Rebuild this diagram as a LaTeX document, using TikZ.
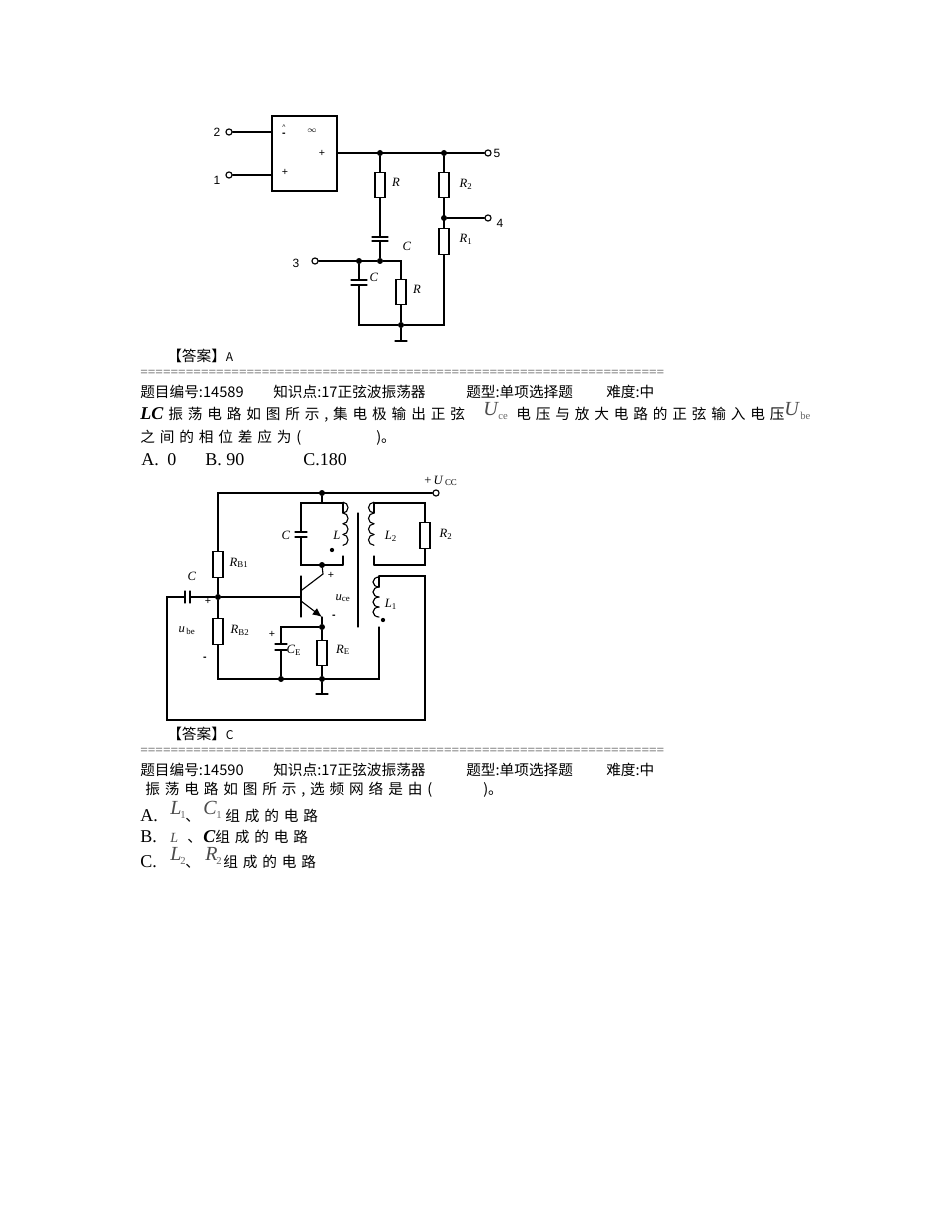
\documentclass[tikz,border=0pt]{standalone}
\usepackage{fontspec}
\usetikzlibrary{arrows.meta}
\setmainfont{Liberation Serif}
\setsansfont{Liberation Sans}
\newfontfamily\cjk{Noto Sans CJK SC}
\newfontfamily\cjkwide[LetterSpace=33]{Noto Sans CJK SC}
\newcommand{\subs}[2]{\textit{#1}\textsubscript{#2}}
\tikzset{
  wire/.style={line width=0.85pt,line cap=round},
  res/.style={draw,line width=0.85pt,rectangle,minimum width=7.5pt,minimum height=19pt,inner sep=0pt},
  dot/.style={circle,fill=black,inner sep=0pt,minimum size=4.5pt},
  term/.style={circle,draw,fill=white,line width=0.85pt,inner sep=0pt,minimum size=4.6pt},
  lab/.style={inner sep=0pt,font=\fontsize{9.5}{10}\selectfont},
  pinlab/.style={inner sep=0pt,font=\sffamily\fontsize{9}{10}\selectfont},
  sign/.style={inner sep=0pt,font=\sffamily\fontsize{8}{9}\selectfont},
  txt/.style={anchor=base west,inner sep=0pt,font=\cjk\fontsize{11}{12}\selectfont},
  wide/.style={anchor=base west,inner sep=0pt,font=\cjkwide\fontsize{11}{12}\selectfont},
  opt/.style={anchor=base west,inner sep=0pt,font=\fontsize{13.5}{14}\selectfont},
  bigl/.style={anchor=base west,inner sep=0pt,font=\itshape\fontsize{15}{16}\selectfont,text=black!70},
  subtxt/.style={anchor=base west,inner sep=0pt,font=\fontsize{8}{9}\selectfont,text=black!60},
  eqline/.style={anchor=base west,inner sep=0pt,font=\fontsize{10.1}{10}\selectfont,text=black!70},
}
\begin{document}
\begin{tikzpicture}[x=0.75pt,y=-0.75pt]
    \useasboundingbox[fill=white] (0,0) rectangle (950,1230);

    % first circuit
    \node[draw,line width=0.85pt,minimum width=48.75pt,minimum height=56.25pt,inner sep=0pt] (amp) at (304.5,153.5) {};
    \node[term] (t2) at (229,132) {};
    \node[term] (t1) at (229,175) {};
    \node[term] (t5) at (488,153) {};
    \node[term] (t4) at (488,218) {};
    \node[term] (t3) at (315,261) {};
    \node[dot] (a1) at (380,153) {};
    \node[dot] (a2) at (444,153) {};
    \node[dot] (a3) at (444,218) {};
    \node[dot] (a4) at (380,261) {};
    \node[dot] (a5) at (359,261) {};
    \node[dot] (a6) at (401,325) {};
    \node[res] (ra) at (380,185) {};
    \node[res] (rb) at (444,185) {};
    \node[res] (rc) at (444,241.5) {};
    \node[res] (rd) at (401,292) {};
    \coordinate (ca) at (380,237);
    \coordinate (cb) at (380,241);
    \coordinate (cc) at (359,280);
    \coordinate (cd) at (359,285);
    \coordinate (ga) at (401,341);
    \draw[wire] (t2) -- (t2-|amp.west);
    \draw[wire] (t1) -- (t1-|amp.west);
    \draw[wire] (amp.east|-t5) -- (t5);
    \draw[wire] (a1) -- (ra);
    \draw[wire] (a2) -- (rb);
    \draw[wire] (rb) -- (rc);
    \draw[wire] (a3) -- (t4);
    \draw[wire] (ra) -- (ca);
    \draw[wire] (cb) -- (a4);
    \draw[wire] ([xshift=-6pt]ca) -- ([xshift=6pt]ca);
    \draw[wire] ([xshift=-6pt]cb) -- ([xshift=6pt]cb);
    \draw[wire] (t3) -- (a4) -| (rd);
    \draw[wire] (a5) -- (cc);
    \draw[wire] ([xshift=-6pt]cc) -- ([xshift=6pt]cc);
    \draw[wire] ([xshift=-6pt]cd) -- ([xshift=6pt]cd);
    \draw[wire] (cd) |- (a6);
    \draw[wire] (rd) -- (a6) -- (ga);
    \draw[wire] (rc) |- (a6);
    \draw[wire] ([xshift=-4.5pt]ga) -- ([xshift=4.5pt]ga);

    \node[sign] (am) at (284,135) {\textbf{-}};
    \node[sign] (an) at (284,127) {\fontsize{5}{5}\selectfont\textasciicircum};
    \node[sign] (ai) at (312,131) {$\scriptstyle\infty$};
    \node[sign] (ap) at (322,153) {+};
    \node[sign] (aq) at (285,172) {+};
    \node[pinlab] (n2) at (217,132) {2};
    \node[pinlab] (n1) at (217,180) {1};
    \node[pinlab] (n3) at (296,263) {3};
    \node[pinlab] (n4) at (500,223) {4};
    \node[pinlab] (n5) at (497,153) {5};
    \node[lab] (lra) at (396,182) {\textit{R}};
    \node[lab] (lrb) at (466,184) {\subs{R}{2}};
    \node[lab] (lrc) at (466,239) {\subs{R}{1}};
    \node[lab] (lca) at (407,246) {\textit{C}};
    \node[lab] (lcb) at (374,277) {\textit{C}};
    \node[lab] (lrd) at (417,289) {\textit{R}};

    % second circuit
    \node[term] (vcc) at (436,493) {};
    \node[dot] (b1) at (322,493) {};
    \node[dot] (b2) at (322,565) {};
    \node[dot] (b3) at (218,597) {};
    \node[dot] (b4) at (322,627) {};
    \node[dot] (b5) at (281,679) {};
    \node[dot] (b6) at (322,679) {};
    \node[res] (rb1) at (218,564.5) {};
    \node[res] (rb2) at (218,631.5) {};
    \node[res] (re) at (322,653) {};
    \node[res] (r2) at (425,535.5) {};
    \coordinate (c0) at (322,503);
    \coordinate (ctl) at (301,503);
    \coordinate (ca1) at (301,532);
    \coordinate (ca2) at (301,537);
    \coordinate (cbl) at (301,565);
    \coordinate (lt) at (343,513);
    \coordinate (lb) at (343,556);
    \coordinate (ltop) at (343,503);
    \coordinate (lbot) at (343,565);
    \coordinate (mt) at (374,513);
    \coordinate (mb) at (374,556);
    \coordinate (mtop) at (374,503);
    \coordinate (mbot) at (374,565);
    \coordinate (rtop) at (425,503);
    \coordinate (rbot) at (425,565);
    \coordinate (nt) at (379,587);
    \coordinate (nb) at (379,627);
    \coordinate (ntop) at (379,576);
    \coordinate (nbot) at (379,679);
    \coordinate (fbr) at (425,576);
    \coordinate (fbb) at (425,720);
    \coordinate (fbl) at (167,720);
    \coordinate (fbt) at (167,597);
    \coordinate (cf1) at (185,597);
    \coordinate (cf2) at (190,597);
    \coordinate (base) at (301,597);
    \coordinate (bt) at (301,576);
    \coordinate (bb) at (301,617);
    \coordinate (col) at (323,574);
    \coordinate (colb) at (301,590.7);
    \coordinate (emib) at (301,601);
    \coordinate (emi) at (322,617);
    \coordinate (ce1) at (281,644);
    \coordinate (ce2) at (281,650);
    \coordinate (cetop) at (281,627);
    \coordinate (blft) at (218,679);
    \coordinate (gb) at (322,694);
    \coordinate (core1) at (358,513);
    \coordinate (core2) at (358,627);

    \draw[wire] (rb1.north) |- (vcc);
    \draw[wire] (rb1) -- (b3) -- (rb2);
    \draw[wire] (rb2) -- (blft) -- (nbot) -- (nb);
    \draw[wire] (b1) -- (c0);
    \draw[wire] (ltop) -- (ctl) -- (ca1);
    \draw[wire] (ca2) -- (cbl) -- (lbot);
    \draw[wire] ([xshift=-4.5pt]ca1) -- ([xshift=4.5pt]ca1);
    \draw[wire] ([xshift=-4.5pt]ca2) -- ([xshift=4.5pt]ca2);
    \draw[wire] (ltop) -- (lt);
    \draw[wire] (lb) -- (lbot);
    \foreach \k in {0,...,3}
        \draw[wire] ([yshift=-\k*8.06pt]lt) arc[start angle=90,end angle=-90,x radius=5,y radius=5.375];
    \draw[wire] (mtop) -- (mt);
    \draw[wire] (mb) -- (mbot);
    \foreach \k in {0,...,3}
        \draw[wire] ([yshift=-\k*8.06pt]mt) arc[start angle=90,end angle=270,x radius=5.5,y radius=5.375];
    \draw[wire] (mtop) -- (rtop) -- (r2);
    \draw[wire] (r2) -- (rbot) -- (mbot);
    \draw[wire] (ntop) -- (nt);
    \foreach \k in {0,...,3}
        \draw[wire] ([yshift=-\k*7.5pt]nt) arc[start angle=90,end angle=270,x radius=6,y radius=5];
    \draw[wire] (ntop) -- (fbr) -- (fbb) -- (fbl) -- (fbt) -- (cf1);
    \draw[wire] (cf2) -- (b3) -- (base);
    \draw[wire] ([yshift=-4.5pt]cf1) -- ([yshift=4.5pt]cf1);
    \draw[wire] ([yshift=-4.5pt]cf2) -- ([yshift=4.5pt]cf2);
    \draw[wire] (bt) -- (bb);
    \draw[wire] (colb) -- (col) -- (b2);
    \draw[wire,-{Latex[length=7pt,width=6pt]}] (emib) -- (emi);
    \draw[wire] (emi) -- (b4) -- (re);
    \draw[wire] (re) -- (b6) -- (gb);
    \draw[wire] (b4) -- (cetop) -- (ce1);
    \draw[wire] (ce2) -- (b5);
    \draw[wire] ([xshift=-4.5pt]ce1) -- ([xshift=4.5pt]ce1);
    \draw[wire] ([xshift=-4.5pt]ce2) -- ([xshift=4.5pt]ce2);
    \draw[wire] ([xshift=-4.5pt]gb) -- ([xshift=4.5pt]gb);
    \draw[wire] (core1) -- (core2);
    \node[dot,minimum size=3.2pt] (d1) at (332,550) {};
    \node[dot,minimum size=3.2pt] (d2) at (383,620) {};

    \node[lab] (lvcc) at (441,481) {+\,\subs{U}{\,CC}};
    \node[lab] (lc) at (286,535) {\textit{C}};
    \node[lab] (ll) at (337,535) {\textit{L}};
    \node[lab] (ll2) at (391,536) {\subs{L}{2}};
    \node[lab] (lr2) at (446,534) {\subs{R}{2}};
    \node[lab] (lrb1) at (239,563) {\subs{R}{B1}};
    \node[lab] (lcf) at (192,576) {\textit{C}};
    \node[lab] (lrb2) at (240,630) {\subs{R}{B2}};
    \node[lab] (lce) at (294,650) {\subs{C}{E}};
    \node[lab] (lre) at (343,650) {\subs{R}{E}};
    \node[lab] (luce) at (343,598) {\subs{u}{ce}};
    \node[lab] (ll1) at (391,604) {\subs{L}{1}};
    \node[lab] (lube) at (187,631) {\subs{u}{\,be}};
    \node[sign] (s1) at (331,575) {+};
    \node[sign] (s2) at (334,617) {\textbf{-}};
    \node[sign] (s3) at (208,601) {+};
    \node[sign] (s4) at (205,659) {\textbf{-}};
    \node[sign] (s5) at (272,634) {+};

    % text
    \node[txt] (ans1) at (167,361) {【答案】\fontsize{9}{10}\selectfont A};
    \node[eqline] (eq1) at (140,376) {=====================================================================};
    \node[txt] (q1a) at (140,397) {题目编号:14589};
    \node[txt] (q1b) at (273,397) {知识点:17正弦波振荡器};
    \node[txt] (q1c) at (466,397) {题型:单项选择题};
    \node[txt] (q1d) at (606,397) {难度:中};
    \node[opt,font=\bfseries\itshape\fontsize{13.5}{14}\selectfont] (lc1) at (140,419) {LC};
    \node[wide] (l1a) at (168,419) {振荡电路如图所示,集电极输出正弦};
    \node[bigl] (uce) at (483,415) {U};
    \node[subtxt] (uces) at (498,419) {ce};
    \node[wide] (l1b) at (516,419) {电压与放大电路的正弦输入电压};
    \node[bigl] (ube) at (784,415) {U};
    \node[subtxt] (ubes) at (800,419) {be};
    \node[wide] (l2a) at (140,442) {之间的相位差应为(};
    \node[txt] (l2b) at (376,442) {)。};
    \node[opt] (o1) at (141,465) {A.};
    \node[opt] (o2) at (167,465) {0};
    \node[opt] (o3) at (205,465) {B. 90};
    \node[opt] (o4) at (303,465) {C.180};

    \node[txt] (ans2) at (167,739) {【答案】\fontsize{9}{10}\selectfont C};
    \node[eqline] (eq2) at (140,754) {=====================================================================};
    \node[txt] (q2a) at (140,775) {题目编号:14590};
    \node[txt] (q2b) at (273,775) {知识点:17正弦波振荡器};
    \node[txt] (q2c) at (466,775) {题型:单项选择题};
    \node[txt] (q2d) at (606,775) {难度:中};
    \node[wide] (m1) at (145,794) {振荡电路如图所示,选频网络是由(};
    \node[txt] (m2) at (483,794) {)。};
    \node[opt] (oa) at (140,821) {A.};
    \node[bigl] (oa1) at (170,814) {L};
    \node[subtxt] (oa2) at (180,818) {1};
    \node[txt] (oa3) at (185,821) {、};
    \node[bigl] (oa4) at (203,814) {C};
    \node[subtxt] (oa5) at (216,818) {1};
    \node[wide] (oa6) at (225,821) {组成的电路};
    \node[opt] (ob) at (140,842) {B.};
    \node[opt,font=\itshape\fontsize{10.5}{11}\selectfont,text=black!70] (ob1) at (170,842) {L};
    \node[txt] (ob2) at (187,842) {、};
    \node[opt,font=\bfseries\itshape\fontsize{13.5}{14}\selectfont] (ob3) at (203,842) {C};
    \node[wide] (ob4) at (215,842) {组成的电路};
    \node[opt] (oc) at (140,867) {C.};
    \node[bigl] (oc1) at (170,860) {L};
    \node[subtxt] (oc2) at (180,864) {2};
    \node[txt] (oc3) at (185,867) {、};
    \node[bigl] (oc4) at (205,860) {R};
    \node[subtxt] (oc5) at (216,864) {2};
    \node[wide] (oc6) at (223,867) {组成的电路};
\end{tikzpicture}
\end{document}
